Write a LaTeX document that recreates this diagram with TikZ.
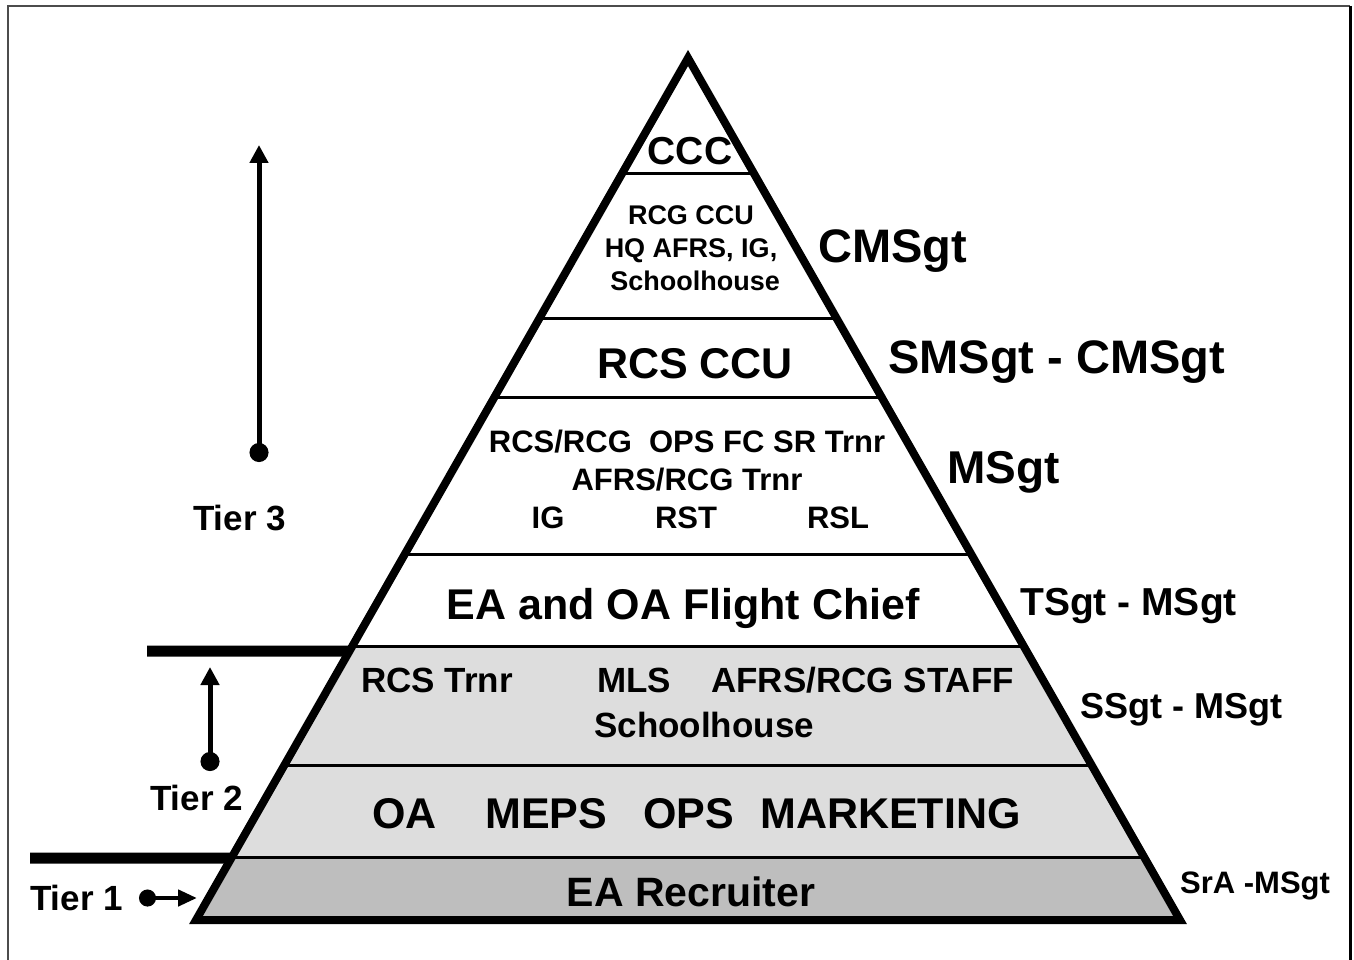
\documentclass[tikz,border=0pt]{standalone}
\usepackage{fontspec}
\setmainfont{Liberation Sans}
\usetikzlibrary{arrows.meta,calc}
\definecolor{bandLight}{RGB}{221,221,221}
\definecolor{bandDark}{RGB}{190,190,190}
\newcommand{\fsz}[1]{\fontsize{#1}{#1}\selectfont}
\tikzset{
    txt/.style={font=\bfseries\fsz{#1},inner sep=0pt},
    rank/.style={txt=#1,anchor=base west},
    lvl/.style={txt=#1,anchor=base},
    bandline/.style={line width=3pt},
    tierbar/.style={line width=11pt},
    tierarrow/.style={line width=5pt,{Circle[length=19pt]}-{Triangle[length=18pt,width=18pt]}},
    sidearrow/.style={line width=4.5pt,{Circle[length=17pt]}-{Triangle[length=19pt,width=16pt]}},
}
\begin{document}
\begin{tikzpicture}[x=1pt,y=-1pt]
    \useasboundingbox (0,0) rectangle (1354,960);
    % frame
    \draw[black!70,line width=1.5pt] (8,975) -- (8,6) -- (1350,6);
    \draw[line width=3pt] (1350,6) -- (1350,975);

    \coordinate (apex) at (688,58);
    \coordinate (bl) at (196,920);
    \coordinate (br) at (1180,920);
    \foreach \n/\y in {a/173,b/318,c/397,d/554,e/646,f/765,g/857}{
        \coordinate (\n-l) at ($(bl)!{(920-\y)/862}!(apex)$);
        \coordinate (\n-r) at ($(br)!{(920-\y)/862}!(apex)$);
    }
    \coordinate (t2-e) at ($(bl)!{(920-651)/862}!(apex)$);
    \coordinate (t1-e) at ($(bl)!{(920-858)/862}!(apex)$);
    \coordinate (t2-s) at (147,651);
    \coordinate (t1-s) at (30,858);

    % bands
    \fill[bandLight] (e-l) -- (e-r) -- (g-r) -- (g-l) -- cycle;
    \fill[bandDark] (g-l) -- (g-r) -- (br) -- (bl) -- cycle;
    \foreach \n in {a,b,c,d,e,f,g}
        \draw[bandline] (\n-l) -- (\n-r);

    % tier bars
    \draw[tierbar] (t2-s) -- (t2-e);
    \draw[tierbar] (t1-s) -- (t1-e);

    \draw[line width=8pt,line join=miter] (apex) -- (br) -- (bl) -- cycle;

    % tier arrows
    \coordinate (t3-a) at (259,462);
    \coordinate (t3-b) at (259,145);
    \coordinate (t2-a) at (210,771);
    \coordinate (t2-b) at (210,667);
    \coordinate (t1-a) at (139,898);
    \coordinate (t1-b) at (197,898);
    \draw[tierarrow] (t3-a) -- (t3-b);
    \draw[tierarrow] (t2-a) -- (t2-b);
    \draw[sidearrow] (t1-a) -- (t1-b);

    \node[rank=35] (tier3) at (193,530) {Tier 3};
    \node[rank=35] (tier2) at (150,810) {Tier 2};
    \node[rank=35] (tier1) at (30,910) {Tier 1};

    % ranks
    \node[rank=47] (cmsgt) at (818,262) {CMSgt};
    \node[rank=47] (smsgt) at (888,373) {SMSgt - CMSgt};
    \node[rank=46] (msgt) at (947,483) {MSgt};
    \node[rank=39] (tsgt) at (1020,615) {TSgt - MSgt};
    \node[rank=36] (ssgt) at (1080,718) {SSgt - MSgt};
    \node[rank=31] (sra) at (1180,893) {SrA -MSgt};

    % levels
    \node[lvl=39] (ccc) at (690,165) {CCC};
    \node[lvl=27] (rcg1) at (691,225) {RCG CCU};
    \node[lvl=27] (rcg2) at (691,257) {HQ AFRS, IG,};
    \node[lvl=27] (rcg3) at (695,290) {Schoolhouse};
    \node[lvl=43] (rcs) at (695,378) {RCS CCU};
    \node[lvl=31] (ops1) at (687,452) {RCS/RCG\ \ OPS FC SR Trnr};
    \node[lvl=31] (ops2) at (687,490) {AFRS/RCG Trnr};
    \node[lvl=31] (ig) at (548,528) {IG};
    \node[lvl=31] (rst) at (686,528) {RST};
    \node[lvl=31] (rsl) at (838,528) {RSL};
    \node[lvl=43] (flt) at (683,619) {EA and OA Flight Chief};
    \node[rank=35] (rcstr) at (361,692) {RCS Trnr};
    \node[rank=35] (mls) at (597,692) {MLS};
    \node[rank=35] (staff) at (711,692) {AFRS/RCG STAFF};
    \node[rank=35] (school) at (594,737) {Schoolhouse};
    \node[rank=43] (oa) at (372,828) {OA};
    \node[rank=43] (meps) at (485,828) {MEPS};
    \node[rank=43] (ops) at (643,828) {OPS};
    \node[rank=43] (mkt) at (760,828) {MARKETING};
    \node[lvl=41] (ea) at (691,906) {EA Recruiter};
\end{tikzpicture}
\end{document}
